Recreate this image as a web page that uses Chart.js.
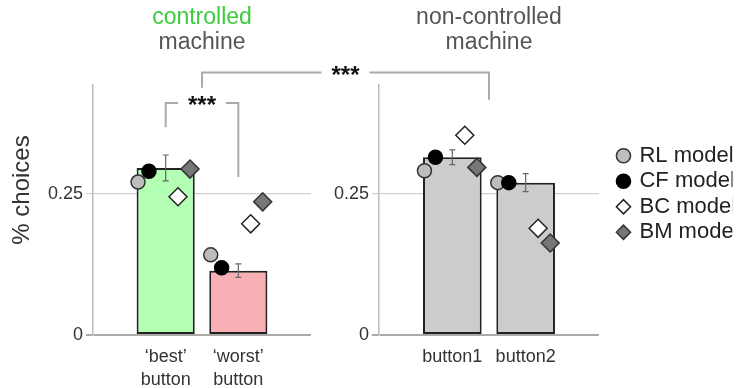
<!DOCTYPE html>
<html lang="en">
<head>
<meta charset="UTF-8">
<title>% choices per machine</title>
<script src="https://cdn.jsdelivr.net/npm/chart.js"></script>
<style>
  body { margin: 0; background: #fff; }
  .wrap { position: relative; width: 744px; height: 388px; }
  .layer { position: absolute; left: 0; top: 0; width: 744px; height: 388px; }
</style>
</head>
<body>
<div class="wrap">
  <div class="layer"><canvas id="leftChart"></canvas></div>
  <div class="layer"><canvas id="rightChart"></canvas></div>
</div>
<script>
// observed choices (bars) and s.e.m.
const leftLabels = [['‘best’', 'button'], ['‘worst’', 'button']];
const leftChoices = [0.296, 0.114];
const leftErrors = [0.023, 0.012];

const rightLabels = ['button1', 'button2'];
const rightChoices = [0.315, 0.270];
const rightErrors = [0.013, 0.016];

// model simulations, same order as the bars
const modelNames = ['RL model', 'CF model', 'BC model', 'BM model'];
const rlLeft = [0.271, 0.142];
const cfLeft = [0.290, 0.119];
const bcLeft = [0.245, 0.197];
const bmLeft = [0.294, 0.236];
const rlRight = [0.291, 0.270];
const cfRight = [0.315, 0.270];
const bcRight = [0.354, 0.189];
const bmRight = [0.297, 0.163];

const yTicks = [0, 0.25];
const yMax = 0.443;

// significance brackets: [top, left leg end, right leg end]
const innerBracket = [0.411, 0.368, 0.280];
const outerBracket = [0.465, 0.438, 0.417];

Chart.defaults.font.family = '"Liberation Sans", Arial, sans-serif';
Chart.defaults.color = '#333';

const modelStyles = [
  { pointStyle: 'circle', radius: 7, bg: '#bdbdbd', border: '#333' },
  { pointStyle: 'circle', radius: 7, bg: '#000', border: '#000' },
  { pointStyle: 'rectRot', radius: 9, bg: '#fff', border: '#222' },
  { pointStyle: 'rectRot', radius: 9, bg: '#777', border: '#333' }
];
const jitter = [-0.38, -0.23, 0.17, 0.335];

function modelDatasets(values) {
  return modelNames.map((name, m) => ({
    type: 'scatter',
    label: name,
    data: values[m].map((v, i) => ({ x: i + jitter[m], y: v })),
    pointStyle: modelStyles[m].pointStyle,
    pointRadius: modelStyles[m].radius,
    pointHoverRadius: modelStyles[m].radius,
    backgroundColor: modelStyles[m].bg,
    borderColor: modelStyles[m].border,
    borderWidth: 1.5,
    order: 4 - m
  }));
}

function barDataset(values, colors) {
  return {
    type: 'bar',
    label: 'data',
    data: values.map((v, i) => ({ x: i, y: v })),
    backgroundColor: colors,
    borderColor: '#222',
    borderWidth: 2,
    borderSkipped: false,
    barPercentage: 0.8,
    categoryPercentage: 1,
    order: 10
  };
}

function scalesFor(labels, axisWidth) {
  return {
    x: {
      type: 'linear', min: -1, max: 2, offset: false,
      grid: { display: false, drawTicks: false, offset: false },
      border: { display: false },
      afterBuildTicks: s => { s.ticks = labels.map((l, i) => ({ value: i })); },
      afterFit: s => { s.height = 53; },
      ticks: {
        callback: v => labels[v],
        color: '#333',
        font: { size: 18, lineHeight: 1.25 },
        padding: 11, maxRotation: 0, autoSkip: false
      }
    },
    y: {
      min: 0, max: yMax,
      afterBuildTicks: s => { s.ticks = yTicks.map(v => ({ value: v })); },
      afterFit: s => { s.width = axisWidth; },
      border: { color: '#bbb', width: 1.5 },
      grid: {
        color: c => (c.tick && c.tick.value === 0 ? '#aaa' : '#d0d0d0'),
        lineWidth: c => (c.tick && c.tick.value === 0 ? 2 : 1.2),
        tickLength: 7
      },
      ticks: { callback: v => String(v), color: '#333', font: { size: 18 }, padding: 3 }
    }
  };
}

function titleOpts(text, color) {
  return {
    display: true, text: text, color: color, fullSize: false,
    font: { size: 23, weight: 'normal', lineHeight: 1.05 },
    padding: { top: 6, bottom: 0 }
  };
}

function subtitleOpts(text) {
  return {
    display: true, text: text, color: '#555', fullSize: false,
    font: { size: 23, weight: 'normal', lineHeight: 1.05 },
    padding: { top: 0, bottom: 30.7 }
  };
}

// s.e.m. whiskers on top of the bars
const errorBars = {
  id: 'errorBars',
  afterDatasetDraw(chart, args, opts) {
    if (args.index !== 0) return;
    const { ctx, scales: { x, y } } = chart;
    const bars = chart.data.datasets[0].data;
    ctx.save();
    ctx.strokeStyle = '#666';
    ctx.lineWidth = 1.2;
    opts.errors.forEach((e, i) => {
      const px = x.getPixelForValue(bars[i].x);
      const top = y.getPixelForValue(bars[i].y + e);
      const bot = y.getPixelForValue(bars[i].y - e);
      ctx.beginPath();
      ctx.moveTo(px, top); ctx.lineTo(px, bot);
      ctx.moveTo(px - 3, top); ctx.lineTo(px + 3, top);
      ctx.moveTo(px - 3, bot); ctx.lineTo(px + 3, bot);
      ctx.stroke();
    });
    ctx.restore();
  }
};

function drawBracket(ctx, x1, x2, yTop, y1, y2) {
  const mid = (x1 + x2) / 2;
  const half = ctx.measureText('***').width / 2 + 10;
  ctx.beginPath();
  ctx.moveTo(x1, y1); ctx.lineTo(x1, yTop); ctx.lineTo(mid - half, yTop);
  ctx.moveTo(mid + half, yTop); ctx.lineTo(x2, yTop); ctx.lineTo(x2, y2);
  ctx.stroke();
  ctx.fillText('***', mid, yTop + 10);
}

const rightChart = new Chart(document.getElementById('rightChart'), {
  type: 'bar',
  data: {
    datasets: [barDataset(rightChoices, ['#cccccc', '#cccccc'])]
      .concat(modelDatasets([rlRight, cfRight, bcRight, bmRight]))
  },
  options: {
    responsive: true,
    maintainAspectRatio: false,
    animation: false,
    layout: { padding: { left: 300, right: 11.5, top: 0, bottom: 0 } },
    scales: scalesFor(rightLabels, 79),
    plugins: {
      tooltip: { enabled: false },
      title: titleOpts('non-controlled', '#555'),
      subtitle: subtitleOpts('machine'),
      legend: {
        position: 'right',
        maxWidth: 200,
        labels: {
          usePointStyle: true,
          boxWidth: 10, boxHeight: 10,
          padding: 3.5,
          color: '#222',
          font: { size: 22 },
          filter: item => item.datasetIndex > 0,
          sort: (a, b) => a.datasetIndex - b.datasetIndex
        }
      },
      errorBars: { errors: rightErrors }
    }
  },
  plugins: [errorBars, {
    id: 'legendShift',
    afterLayout(chart) {
      chart.legend.left = chart.chartArea.right + 16;
    }
  }]
});

const leftChart = new Chart(document.getElementById('leftChart'), {
  type: 'bar',
  data: {
    datasets: [barDataset(leftChoices, ['#b3ffb3', '#f8b0b4'])]
      .concat(modelDatasets([rlLeft, cfLeft, bcLeft, bmLeft]))
  },
  options: {
    responsive: true,
    maintainAspectRatio: false,
    animation: false,
    layout: { padding: { left: 0, right: 433, top: 0, bottom: 0 } },
    scales: scalesFor(leftLabels, 93),
    plugins: {
      legend: { display: false },
      tooltip: { enabled: false },
      title: titleOpts('controlled', '#3ccc3c'),
      subtitle: subtitleOpts('machine'),
      errorBars: { errors: leftErrors }
    }
  },
  plugins: [errorBars, {
    id: 'annotations',
    afterDraw(chart) {
      const { ctx, scales: { x, y } } = chart;
      ctx.save();
      ctx.strokeStyle = '#aaa';
      ctx.lineWidth = 2;
      ctx.fillStyle = '#111';
      ctx.textAlign = 'center';
      ctx.font = 'bold 24px "Liberation Sans", Arial, sans-serif';
      drawBracket(ctx, x.getPixelForValue(0), x.getPixelForValue(1),
        y.getPixelForValue(innerBracket[0]), y.getPixelForValue(innerBracket[1]), y.getPixelForValue(innerBracket[2]));
      drawBracket(ctx, x.getPixelForValue(0.5), rightChart.scales.x.getPixelForValue(0.5),
        y.getPixelForValue(outerBracket[0]), y.getPixelForValue(outerBracket[1]), y.getPixelForValue(outerBracket[2]));

      // y axis title
      ctx.translate(22, 190);
      ctx.rotate(-Math.PI / 2);
      ctx.font = '24px "Liberation Sans", Arial, sans-serif';
      ctx.fillStyle = '#333';
      ctx.textBaseline = 'middle';
      ctx.fillText('% choices', 0, 0);
      ctx.restore();
    }
  }]
});
</script>
</body>
</html>
